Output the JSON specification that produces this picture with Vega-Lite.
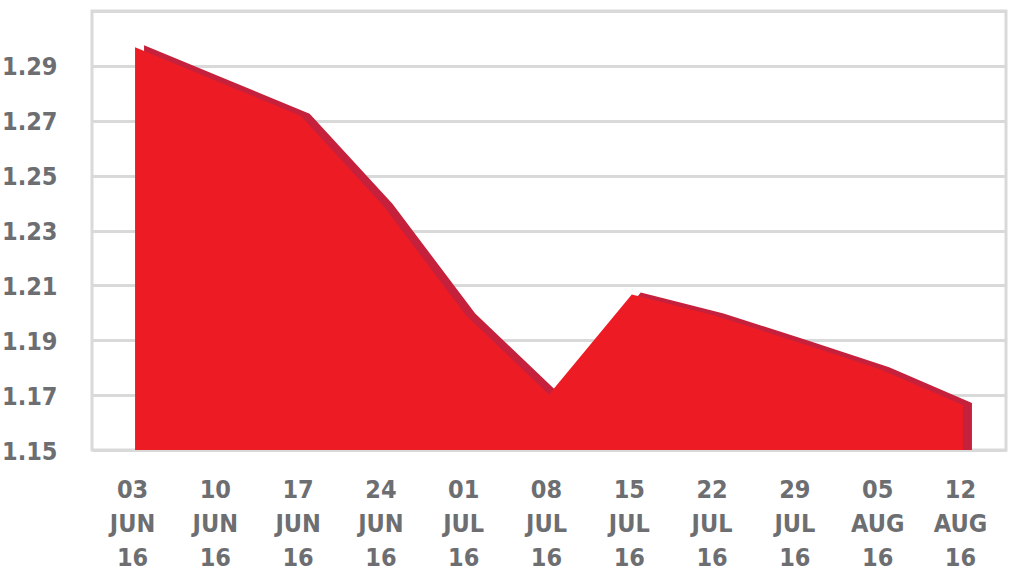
{
  "$schema": "https://vega.github.io/schema/vega-lite/v6.json",
  "width": 914,
  "height": 439,
  "autosize": {"type": "none"},
  "padding": {"left": 92, "top": 11, "right": 8, "bottom": 122},
  "background": "white",
  "config": {
    "view": {"stroke": "#D9D9D9", "strokeWidth": 3},
    "font": "DejaVu Sans Condensed"
  },
  "data": {
    "values": [
      {"week": "03 JUN 16", "rate": 1.2968},
      {"week": "10 JUN 16", "rate": 1.2843},
      {"week": "17 JUN 16", "rate": 1.2718},
      {"week": "24 JUN 16", "rate": 1.2390},
      {"week": "01 JUL 16", "rate": 1.1990},
      {"week": "08 JUL 16", "rate": 1.1702},
      {"week": "15 JUL 16", "rate": 1.2067},
      {"week": "22 JUL 16", "rate": 1.1990},
      {"week": "29 JUL 16", "rate": 1.1894},
      {"week": "05 AUG 16", "rate": 1.1794},
      {"week": "12 AUG 16", "rate": 1.1664}
    ]
  },
  "encoding": {
    "x": {
      "field": "week",
      "type": "ordinal",
      "sort": null,
      "scale": {"type": "point", "padding": 0.52},
      "axis": {
        "title": null,
        "domain": false,
        "ticks": false,
        "grid": false,
        "labelAngle": 0,
        "labelExpr": "split(datum.value, ' ')",
        "labelFont": "DejaVu Sans Condensed",
        "labelFontWeight": "bold",
        "labelFontSize": 25,
        "labelLineHeight": 34,
        "labelColor": "#6D6E71",
        "labelBaseline": "top",
        "labelPadding": 27,
        "labelOffset": -3
      }
    },
    "y": {
      "field": "rate",
      "type": "quantitative",
      "scale": {"domain": [1.15, 1.31], "zero": false, "nice": false},
      "axis": {
        "title": null,
        "domain": false,
        "ticks": false,
        "values": [1.15, 1.17, 1.19, 1.21, 1.23, 1.25, 1.27, 1.29, 1.31],
        "labelExpr": "datum.value > 1.30 ? '' : format(datum.value, '.2f')",
        "gridColor": "#D9D9D9",
        "gridWidth": 3,
        "labelFont": "DejaVu Sans Condensed",
        "labelFontWeight": "bold",
        "labelFontSize": 25,
        "labelColor": "#6D6E71",
        "labelPadding": 35,
        "labelOffset": 1
      }
    }
  },
  "layer": [
    {
      "mark": {"type": "area", "color": "#C5203C", "xOffset": 9, "yOffset": -2, "clip": true}
    },
    {
      "mark": {"type": "area", "color": "#ED1C24", "clip": true}
    }
  ]
}
